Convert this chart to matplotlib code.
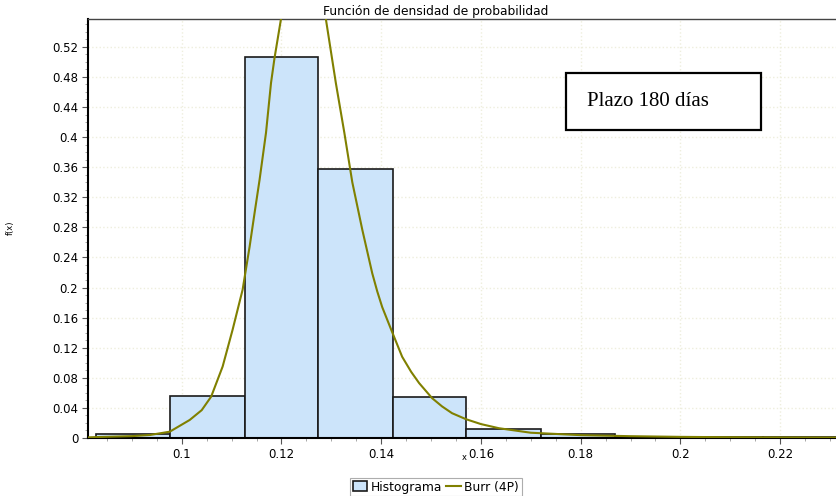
import numpy as np
import matplotlib
matplotlib.use("Agg")
import matplotlib.pyplot as plt
from matplotlib.patches import Rectangle
from matplotlib.ticker import MultipleLocator, FuncFormatter

# histogram bins (edges) and heights
bin_edges = [0.0828, 0.0977, 0.1126, 0.1274, 0.1423, 0.1571, 0.1720, 0.1868, 0.2017, 0.2165, 0.2314]
hist_heights = [0.0053, 0.056, 0.506, 0.358, 0.055, 0.0115, 0.005, 0.0012, 0.0010, 0.0010]

# Burr (4P) fitted curve
burr_x = [0.0812, 0.0828, 0.0900, 0.0936, 0.0976, 0.1016, 0.1040, 0.1059, 0.1082, 0.1102,
          0.1122, 0.1136, 0.1146, 0.1156, 0.1169, 0.1179, 0.1186, 0.1199, 0.1215, 0.1235,
          0.1255, 0.1275, 0.1289, 0.1309, 0.1326, 0.1342, 0.1362, 0.1382, 0.1392, 0.1402,
          0.1420, 0.1442, 0.1460, 0.1476, 0.1502, 0.1522, 0.1542, 0.1570, 0.1600, 0.1636,
          0.1700, 0.1800, 0.1900, 0.2000, 0.2100, 0.2200, 0.2314]
burr_y = [0.0008, 0.0012, 0.0025, 0.0040, 0.0084, 0.0240, 0.0370, 0.0550, 0.0950, 0.1440,
          0.1970, 0.2540, 0.2990, 0.3430, 0.4060, 0.4720, 0.5050, 0.5570, 0.6050, 0.6300,
          0.6250, 0.5950, 0.5570, 0.4720, 0.4060, 0.3400, 0.2770, 0.2190, 0.1950, 0.1740,
          0.1440, 0.1080, 0.0880, 0.0730, 0.0530, 0.0420, 0.0330, 0.0250, 0.0185, 0.0130,
          0.0070, 0.0038, 0.0024, 0.0015, 0.0010, 0.0007, 0.0005]

y_ticks = np.arange(0, 0.53, 0.04)
x_ticks = [0.10, 0.12, 0.14, 0.16, 0.18, 0.20, 0.22]

plt.rcParams['font.family'] = ['DejaVu Sans']

fig = plt.figure(figsize=(8.37, 4.96), dpi=100)
ax = fig.add_axes([88 / 837, 58 / 496, 749 / 837, 419 / 496])

lefts = bin_edges[:-1]
widths = np.diff(bin_edges)
bars = ax.bar(lefts, hist_heights, width=widths, align='edge', color='#cce4fa',
              edgecolor='#1a1a1a', linewidth=1.2, label='Histograma', zorder=2)
line, = ax.plot(burr_x, burr_y, color='#808000', linewidth=1.5, label='Burr (4P)', zorder=3)

ax.set_xlim(0.0812, 0.2314)
ax.set_ylim(0, 0.557)

ax.set_yticks(y_ticks)
ax.set_xticks(x_ticks)
ax.yaxis.set_minor_locator(MultipleLocator(0.01))
ax.xaxis.set_minor_locator(MultipleLocator(0.005))
fmt = FuncFormatter(lambda v, p: ('%.2f' % v).rstrip('0').rstrip('.') if v != 0 else '0')
ax.yaxis.set_major_formatter(fmt)
ax.xaxis.set_major_formatter(fmt)
ax.tick_params(axis='both', which='major', labelsize=8.5, length=4, width=0.8, color='#555555', pad=3)
ax.tick_params(axis='both', which='minor', length=2, width=0.6, color='#999999')

ax.grid(True, which='major', color='#eeeedd', linestyle=':', linewidth=1.0, zorder=0)
ax.set_axisbelow(True)

ax.spines['right'].set_visible(False)
ax.spines['top'].set_color('#444444')
ax.spines['top'].set_linewidth(1.0)
ax.spines['left'].set_linewidth(1.5)
ax.spines['bottom'].set_linewidth(1.5)

fig.text(436 / 837, 1 - 11 / 496, 'Función de densidad de probabilidad', ha='center', va='center', fontsize=8.8)
fig.text(10 / 837, 1 - 228 / 496, 'f(x)', rotation=90, ha='center', va='center', fontsize=6)
fig.text(464 / 837, 1 - 458 / 496, 'x', ha='center', va='center', fontsize=6)

# annotation box
fig.patches.append(Rectangle((566 / 837, 1 - 130 / 496), 195 / 837, 57 / 496, transform=fig.transFigure,
                             facecolor='white', edgecolor='black', linewidth=1.6, zorder=5))
fig.text(587 / 837, 1 - 102 / 496, 'Plazo 180 días', fontsize=15, family='Liberation Serif',
         ha='left', va='center', zorder=6)

leg = fig.legend(handles=[bars, line], loc='center', bbox_to_anchor=(436 / 837, 1 - 487 / 496),
                 ncol=2, fontsize=8.8, frameon=True, fancybox=False, handlelength=1.2,
                 handleheight=0.9, handletextpad=0.3, columnspacing=0.3, borderpad=0.2,
                 borderaxespad=0)
leg.get_frame().set_edgecolor('#999999')
leg.get_frame().set_linewidth(0.8)

fig.savefig('out.png', dpi=100)
